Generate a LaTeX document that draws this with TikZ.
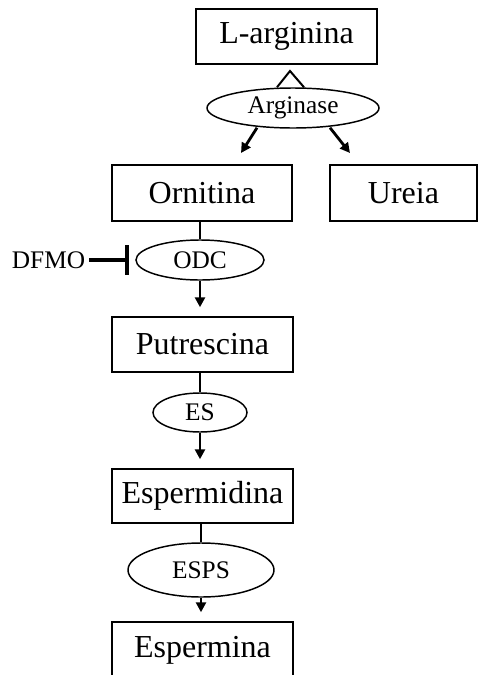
\documentclass[tikz,border=0pt]{standalone}
\usepackage{fontspec}
\setmainfont{Liberation Serif}
\usetikzlibrary{arrows.meta,shapes.geometric,calc}
\begin{document}
\begin{tikzpicture}[x=0.75pt,y=-0.75pt,
  box/.style={draw,line width=1.1pt,inner sep=0pt,font=\fontsize{24}{28}\selectfont},
  enz/.style={draw,ellipse,line width=1.1pt,inner sep=0pt,font=\fontsize{19}{22}\selectfont},
  link/.style={line width=2.1pt},
  arr/.style={line width=2.1pt,-{Triangle[length=7.5pt,width=7.5pt]}},
  thin/.style={line width=1.5pt}]
\useasboundingbox (0,0) rectangle (502,675);
% boxes
\node[box,minimum width=135.75pt,minimum height=41.25pt] (larg) at (286.5,36.5) {L-arginina};
\node[box,minimum width=135pt,minimum height=42pt] (orn) at (202,193) {Ornitina};
\node[box,minimum width=110.25pt,minimum height=42pt] (ureia) at (403.5,193) {Ureia};
\node[box,minimum width=135.75pt,minimum height=41.25pt] (put) at (202.5,344.5) {Putrescina};
\node[box,minimum width=135.75pt,minimum height=40.5pt] (espd) at (202.5,496) {Espermidina};
\node[box,minimum width=135.75pt,minimum height=42pt] (espm) at (202.5,650) {Espermina};
% enzymes
\node[enz,minimum width=129pt,minimum height=30pt] (arg) at (293,108) {Arginase};
\node[enz,minimum width=96pt,minimum height=30pt] (odc) at (200,260) {ODC};
\node[enz,minimum width=70.5pt,minimum height=29.25pt] (es) at (200,412.5) {ES};
\node[enz,minimum width=109.5pt,minimum height=40.5pt] (esps) at (201,570) {ESPS};
\node[font=\fontsize{19}{22}\selectfont,inner sep=0pt] (dfmo) at (48.5,260) {DFMO};
% arginase connectors
\coordinate (apex) at (290,71);
\draw[thin] ($(arg.north)+(-16,0)$) -- (apex) -- ($(arg.north)+(11,0)$);
\coordinate (tipO) at (241,153);
\coordinate (tipU) at (350,153);
\draw[arr] ($(arg.south)+(-36,-1)$) -- (tipO);
\draw[arr] ($(arg.south)+(37,-1)$) -- (tipU);
% main chain
\draw[link] (orn.south -| odc.north) -- (odc.north);
\draw[arr,shorten >=6.75pt] (odc.south) -- (odc.south |- put.north);
\draw[link] (put.south -| es.north) -- (es.north);
\draw[arr,shorten >=6.75pt] (es.south) -- (es.south |- espd.north);
\draw[link] (espd.south -| esps.north) -- (esps.north);
\draw[arr,shorten >=6.75pt] (esps.south) -- (esps.south |- espm.north);
% inhibition
\draw[line width=3pt,-{Bar[width=22.5pt,line width=3pt]},shorten >=4.5pt,shorten <=3pt] (dfmo.east) -- (odc.west);
\end{tikzpicture}
\end{document}
